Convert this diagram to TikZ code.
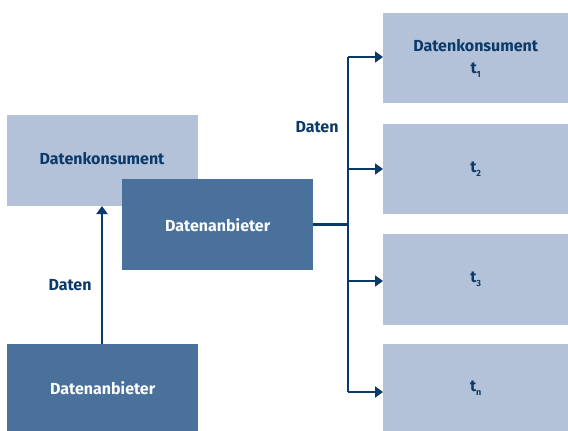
\documentclass[tikz,border=0pt]{standalone}
\usepackage{fontspec}
\setmainfont{Fira Sans}
\usetikzlibrary{arrows.meta}
\definecolor{lightbox}{HTML}{B3C2D8}
\definecolor{darkbox}{HTML}{4A719C}
\definecolor{navy}{HTML}{0B3A6A}
\tikzset{
  txt/.style={font=\bfseries\fontsize{16}{18}\selectfont},
  lbox/.style={fill=lightbox, draw=none, text=navy, txt, align=center, inner sep=0pt},
  dbox/.style={fill=darkbox, draw=none, text=white!95!lightbox, txt, align=center, inner sep=0pt},
  conn/.style={draw=navy, line width=2.7pt},
  arr/.style={conn, -{Triangle[length=8pt,width=11pt]}},
  lbl/.style={text=navy, txt}
}
\newcommand{\tsub}[1]{t{\fontsize{9}{10}\selectfont\raisebox{-4pt}{#1}}}
\begin{document}
\begin{tikzpicture}[x=1pt,y=-1pt]
\useasboundingbox (0,0) rectangle (568,431);
% left group
\node[lbox, minimum width=191pt, minimum height=91pt, anchor=north west] (kons) at (7,115) {};
\node[lbl] (konslbl) at (102,159) {Datenkonsument};
\node[dbox, minimum width=191pt, minimum height=91pt, anchor=north west] (anb1) at (122,179) {Datenanbieter};
\node[dbox, minimum width=191pt, minimum height=87pt, anchor=north west] (anb2) at (7,344) {Datenanbieter};
% right column
\node[lbox, minimum width=185pt, minimum height=90pt, anchor=north west] (r1) at (383,13) {Datenkonsument\\[4pt]\tsub{1}};
\node[lbox, minimum width=185pt, minimum height=90pt, anchor=north west] (r2) at (383,124) {\tsub{2}};
\node[lbox, minimum width=185pt, minimum height=91pt, anchor=north west] (r3) at (383,234) {\tsub{3}};
\node[lbox, minimum width=185pt, minimum height=87pt, anchor=north west] (r4) at (383,344) {\tsub{n}};
% connectors
\draw[arr] (anb2.north -| 102,0) -- (102,206);
\coordinate (split) at (anb1.east -| 348,0);
\draw[conn] (anb1.east) -- (split);
\draw[conn] (348,57) -- (348,392);
\draw[arr] (348,57) -- (r1.west |- 0,57);
\draw[arr] (348,169) -- (r2.west |- 0,169);
\draw[arr] (348,281) -- (r3.west |- 0,281);
\draw[arr] (348,392) -- (r4.west |- 0,392);
% labels
\node[lbl] (d1) at (70,285) {Daten};
\node[lbl] (d2) at (317,127) {Daten};
\end{tikzpicture}
\end{document}
